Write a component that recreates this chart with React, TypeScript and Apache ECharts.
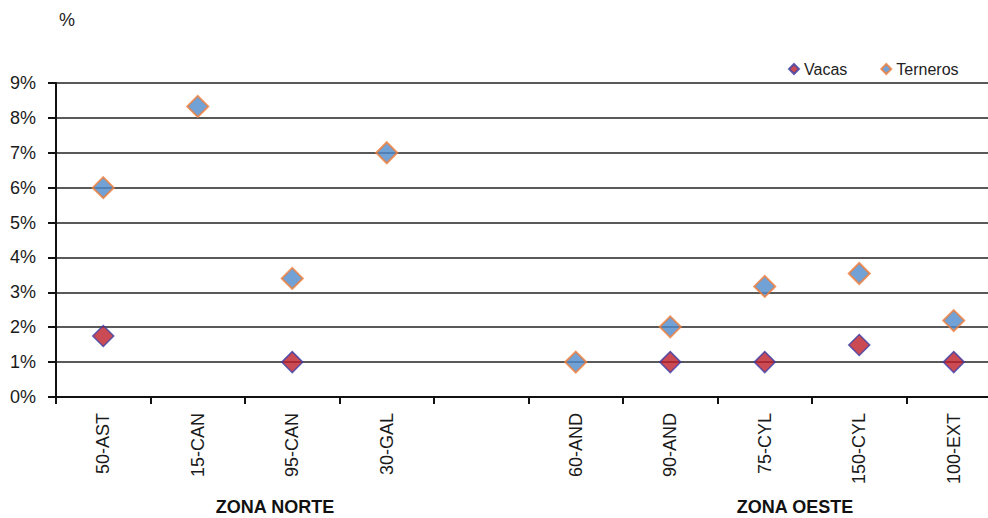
import React, { useEffect, useRef } from "react";
import * as echarts from "echarts";

const categories = ["50-AST", "15-CAN", "95-CAN", "30-GAL", "", "60-AND", "90-AND", "75-CYL", "150-CYL", "100-EXT"];
const vacas = [1.75, null, 1.0, null, null, null, 1.0, 1.0, 1.49, 1.0];
const terneros = [6.0, 8.33, 3.4, 7.0, null, 1.0, 2.01, 3.17, 3.54, 2.19];
const yTicks = { min: 0, max: 9, interval: 1 };

const FONT = "'Liberation Sans', Arial, sans-serif";

export default function App() {
  const ref = useRef<HTMLDivElement>(null);
  useEffect(() => {
    if (!ref.current) return;
    const chart = echarts.init(ref.current, null, { renderer: "svg" });
    chart.setOption({
      animation: false,
      backgroundColor: "#ffffff",
      textStyle: { fontFamily: FONT },
      grid: { left: 56, right: 0, top: 83, bottom: 121, containLabel: false },
      legend: {
        left: 783,
        top: 56,
        itemGap: 33,
        itemWidth: 10,
        itemHeight: 10,
        icon: "diamond",
        textStyle: { fontFamily: FONT, fontSize: 16, color: "#222" },
        data: ["Vacas", "Terneros"],
      },
      xAxis: {
        type: "category",
        data: categories,
        boundaryGap: true,
        axisLine: { show: true, lineStyle: { color: "#111", width: 2 } },
        axisTick: { show: true, length: 7, interval: 0, lineStyle: { color: "#111", width: 2 } },
        axisLabel: {
          interval: 0,
          rotate: 90,
          margin: 16,
          fontSize: 18,
          color: "#1a1a1a",
          fontFamily: FONT,
        },
        splitLine: { show: false },
      },
      yAxis: {
        type: "value",
        min: yTicks.min,
        max: yTicks.max,
        interval: yTicks.interval,
        axisLine: { show: true, lineStyle: { color: "#111", width: 2 } },
        axisTick: { show: true, length: 8, lineStyle: { color: "#111", width: 2 } },
        axisLabel: {
          formatter: "{value}%",
          margin: 20,
          fontSize: 18,
          color: "#1a1a1a",
          fontFamily: FONT,
        },
        splitLine: { show: true, lineStyle: { color: "#222", width: 1.7 } },
      },
      graphic: [
        { type: "text", x: 59, y: 20, style: { text: "%", font: `18px ${FONT}`, fill: "#222", verticalAlign: "middle" } },
        { type: "text", x: 275, y: 507, style: { text: "ZONA NORTE", font: `bold 18px ${FONT}`, fill: "#111", align: "center", verticalAlign: "middle" } },
        { type: "text", x: 795, y: 507, style: { text: "ZONA OESTE", font: `bold 18px ${FONT}`, fill: "#111", align: "center", verticalAlign: "middle" } },
      ],
      series: [
        {
          name: "Vacas",
          type: "scatter",
          symbol: "diamond",
          symbolSize: 21,
          data: vacas,
          itemStyle: { color: "#BE1E2A", borderColor: "#3B3FA6", borderWidth: 1.5 },
          z: 3,
        },
        {
          name: "Terneros",
          type: "scatter",
          symbol: "diamond",
          symbolSize: 21,
          data: terneros,
          itemStyle: { color: "#4F8BCB", borderColor: "#F07D3A", borderWidth: 2 },
          z: 4,
        },
      ],
    });
    return () => chart.dispose();
  }, []);
  return (
    <div style={{ position: "fixed", left: 0, top: 0, width: 988, height: 518, overflow: "hidden" }}>
      <div ref={ref} style={{ width: 1001, height: 518 }} />
    </div>
  );
}
